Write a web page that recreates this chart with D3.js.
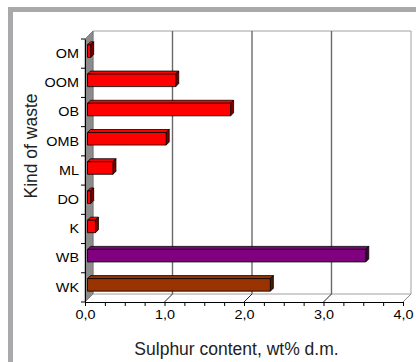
<!DOCTYPE html>
<html>
<head>
<meta charset="utf-8">
<script src="https://cdn.jsdelivr.net/npm/d3@7"></script>
<style>
  html, body { margin: 0; padding: 0; background: #fff; }
  svg { display: block; font-family: Arial, "Liberation Sans", sans-serif; }
</style>
</head>
<body>
<svg id="chart" width="416" height="362"></svg>
<script>
// Sulphur content by kind of waste (wt% d.m.)
const categories = ["OM", "OOM", "OB", "OMB", "ML", "DO", "K", "WB", "WK"];
const sulphur    = [0.04, 1.11, 1.80, 0.99, 0.32, 0.04, 0.10, 3.50, 2.30];
const faceColors = ["#ff0000", "#ff0000", "#ff0000", "#ff0000", "#ff0000", "#ff0000", "#ff0000", "#800080", "#993300"];
const sideColors = ["#800000", "#800000", "#800000", "#800000", "#800000", "#800000", "#800000", "#400040", "#4d1900"];
const xTickValues = [0, 0.25, 0.5, 0.75, 1, 1.25, 1.5, 1.75, 2, 2.25, 2.5, 2.75, 3, 3.25, 3.5, 3.75, 4];
const xTitle = "Sulphur content, wt% d.m.";
const yTitle = "Kind of waste";

const svg = d3.select("#chart");

// panel frame: thick grey band along top and left
svg.append("rect").attr("x", 8).attr("y", 7).attr("width", 408).attr("height", 5).attr("fill", "#a9a9ab");
svg.append("rect").attr("x", 8).attr("y", 7).attr("width", 5).attr("height", 355).attr("fill", "#a9a9ab");

const plotLeft = 85, plotRight = 403, plotTop = 39, plotBottom = 302;
const depth = 8; // oblique depth of the 3-D box

const x = d3.scaleLinear().domain([0, 4]).range([plotLeft, plotRight]);
const y = d3.scaleBand().domain(categories).range([plotTop, plotBottom]).paddingInner(0.57).paddingOuter(0.285);

// project a point (value, screen y, depth fraction) onto the oblique view
const proj = (v, py, z) => [x(v) + z * depth, py - z * depth];
const poly = pts => pts.map(p => p.join(",")).join(" ");

// back wall
svg.append("polygon")
  .attr("points", poly([proj(0, plotTop, 1), proj(4, plotTop, 1), proj(4, plotBottom, 1), proj(0, plotBottom, 1)]))
  .attr("fill", "#fff").attr("stroke", "#a0a0a0").attr("stroke-width", 1);

// side wall
svg.append("polygon")
  .attr("points", poly([proj(0, plotTop, 0), proj(0, plotTop, 1), proj(0, plotBottom, 1), proj(0, plotBottom, 0)]))
  .attr("fill", "#8c8c8c").attr("stroke", "#707070").attr("stroke-width", 0.8);

// gridlines on the back wall and floor
[1, 2, 3].forEach(v => {
  svg.append("line")
    .attr("x1", proj(v, plotTop, 1)[0]).attr("y1", proj(v, plotTop, 1)[1])
    .attr("x2", proj(v, plotBottom, 1)[0]).attr("y2", proj(v, plotBottom, 1)[1])
    .attr("stroke", "#6a6a6a").attr("stroke-width", 1.4);
});
[1, 2, 3, 4].forEach(v => {
  svg.append("line")
    .attr("x1", proj(v, plotBottom, 1)[0]).attr("y1", proj(v, plotBottom, 1)[1])
    .attr("x2", proj(v, plotBottom, 0)[0]).attr("y2", proj(v, plotBottom, 0)[1])
    .attr("stroke", v === 4 ? "#8a8a8a" : "#222").attr("stroke-width", 1);
});

// bars
const zf = 2.5 / depth, zb = 5.5 / depth;
const bars = svg.append("g");
categories.forEach((c, i) => {
  const v = sulphur[i];
  const yt = y(c), yb = y(c) + y.bandwidth();
  const g = bars.append("g").attr("stroke", "#000").attr("stroke-width", 0.8).attr("stroke-linejoin", "round");
  g.append("polygon")
    .attr("points", poly([proj(0, yt, zf), proj(v, yt, zf), proj(v, yt, zb), proj(0, yt, zb)]))
    .attr("fill", faceColors[i]);
  g.append("polygon")
    .attr("points", poly([proj(v, yt, zf), proj(v, yt, zb), proj(v, yb, zb), proj(v, yb, zf)]))
    .attr("fill", sideColors[i]);
  g.append("polygon")
    .attr("points", poly([proj(0, yt, zf), proj(v, yt, zf), proj(v, yb, zf), proj(0, yb, zf)]))
    .attr("fill", faceColors[i]);
});

// value axis
const xAxis = svg.append("g")
  .attr("transform", `translate(0,${plotBottom})`)
  .call(d3.axisBottom(x).tickValues(xTickValues).tickSize(4).tickSizeOuter(0)
    .tickFormat(d => Number.isInteger(d) ? d.toFixed(1).replace(".", ",") : ""));
xAxis.select(".domain").attr("stroke", "#000");
xAxis.selectAll(".tick line").attr("stroke", "#000");
xAxis.selectAll(".tick text")
  .attr("font-size", 12).attr("fill", "#000")
  .attr("y", 8).attr("transform", "scale(1.2,1)");

// category axis
const yAxis = svg.append("g")
  .attr("transform", `translate(${plotLeft},0)`)
  .call(d3.axisLeft(y).tickSize(0).tickPadding(5));
yAxis.select(".domain").attr("stroke", "#000");
yAxis.selectAll(".tick text")
  .attr("font-size", 12).attr("fill", "#000")
  .attr("dy", "0.36em").attr("transform", "scale(1.2,1)");
// boundary ticks between categories
const boundaries = d3.range(categories.length + 1).map(i => plotTop + i * y.step());
yAxis.selectAll(".bound").data(boundaries).join("line")
  .attr("class", "bound")
  .attr("x1", -4).attr("x2", 0).attr("y1", d => d).attr("y2", d => d)
  .attr("stroke", "#000");

// axis titles
svg.append("text")
  .attr("x", 236.5).attr("y", 355)
  .attr("text-anchor", "middle").attr("font-size", 17.5).attr("fill", "#222")
  .text(xTitle);
svg.append("text")
  .attr("transform", "translate(37,146) rotate(-90)")
  .attr("text-anchor", "middle").attr("font-size", 17.5).attr("fill", "#222")
  .text(yTitle);
</script>
</body>
</html>
